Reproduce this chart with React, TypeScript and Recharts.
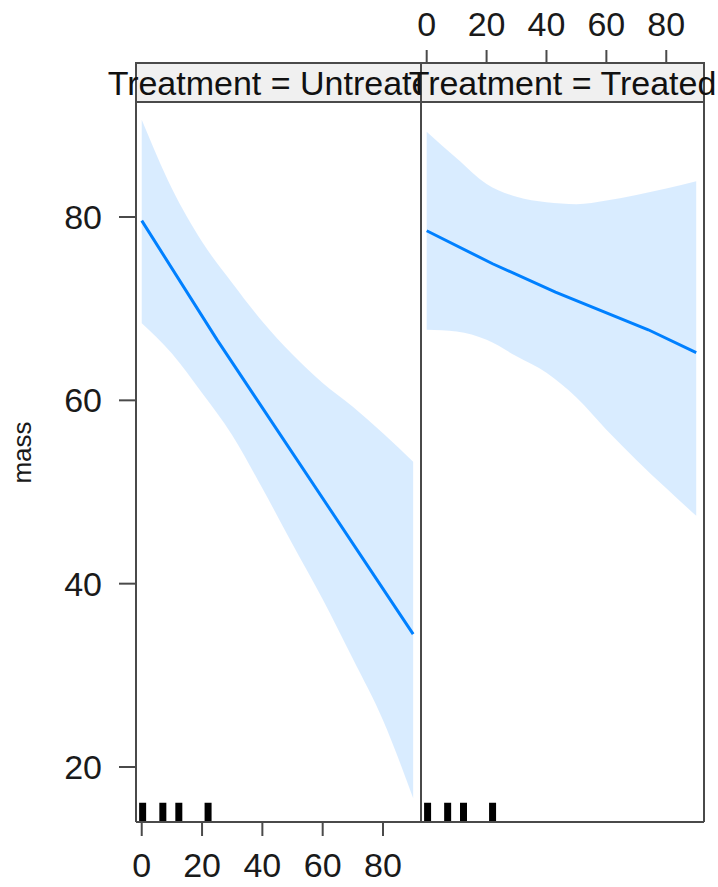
import { ComposedChart, XAxis, YAxis, Area, Line, ReferenceArea, ReferenceLine, Label } from "recharts";

// x = gap, y = mass; effect of gap by Treatment with 95% band
const xTicks = [0, 20, 40, 60, 80];
const yTicks = [20, 40, 60, 80];
const panelNames = ["Treatment = Untreated", "Treatment = Treated"];

const bandX = [0, 10, 20, 30, 40, 50, 60, 70, 80, 90];
const untreatedUpper = [90.6, 83.1, 77.3, 72.8, 68.6, 65.0, 61.9, 59.3, 56.4, 53.3];
const untreatedLower = [68.4, 65.1, 60.8, 56.2, 50.4, 44.3, 38.3, 31.8, 25.1, 16.6];
const untreatedFitX = [0, 25, 90];
const untreatedFit = [79.6, 66.6, 34.5];

const treatedUpper = [89.3, 86.4, 83.6, 82.2, 81.6, 81.4, 81.8, 82.4, 83.1, 83.9];
const treatedLower = [67.7, 67.5, 66.6, 64.8, 63.0, 60.3, 56.8, 53.5, 50.4, 47.4];
const treatedFitX = [0, 22, 43, 74, 90];
const treatedFit = [78.5, 74.9, 71.8, 67.7, 65.2];

const rugX = [0.3, 7, 12.3, 22];

const X_DOMAIN: [number, number] = [-1.9, 92.6];
const Y_DOMAIN: [number, number] = [14, 96.8];
const STRIP_BOTTOM = 92.55;
const RUG_TOP = 16.1;

const AXIS = "#4a4a4a";
const BLUE = "#0080ff";
const tickStyle = { fontSize: 34, fill: "#1a1a1a" };

interface PanelProps {
  left: boolean;
  name: string;
  upper: number[];
  lower: number[];
  fitX: number[];
  fit: number[];
}

function Panel({ left, name, upper, lower, fitX, fit }: PanelProps) {
  const bandRows = bandX.map((x, i) => ({ x, range: [lower[i], upper[i]] }));
  const fitRows = fitX.map((x, i) => ({ x, fit: fit[i] }));

  return (
    <div style={{ position: "absolute", left: left ? 0 : 380, top: 0 }}>
      <ComposedChart
        width={left ? 440 : 338}
        height={887}
        margin={{ top: 0, right: left ? 19 : 0, bottom: 0, left: left ? 0 : 41 }}
      >
        <XAxis
          type="number"
          dataKey="x"
          domain={X_DOMAIN}
          allowDataOverflow
          ticks={xTicks}
          height={65}
          tickSize={14}
          tickMargin={17}
          tick={left ? tickStyle : false}
          axisLine={{ stroke: AXIS, strokeWidth: 2 }}
          tickLine={{ stroke: AXIS, strokeWidth: 2 }}
        />
        <XAxis
          xAxisId="top"
          orientation="top"
          type="number"
          dataKey="x"
          domain={X_DOMAIN}
          allowDataOverflow
          ticks={xTicks}
          height={63}
          tickSize={13}
          tickMargin={14}
          tick={left ? false : tickStyle}
          axisLine={{ stroke: AXIS, strokeWidth: 2 }}
          tickLine={{ stroke: AXIS, strokeWidth: 2 }}
        />
        <YAxis
          type="number"
          orientation={left ? "left" : "right"}
          domain={Y_DOMAIN}
          allowDataOverflow
          ticks={yTicks}
          width={left ? 136 : 14}
          tickSize={left ? 17 : 14}
          tickMargin={17}
          tick={left ? tickStyle : false}
          axisLine={{ stroke: AXIS, strokeWidth: 2 }}
          tickLine={{ stroke: AXIS, strokeWidth: 2 }}
        >
          {left && (
            <Label value="mass" angle={-90} position="center" dx={-46} dy={10} style={{ fontSize: 26, fill: "#1a1a1a" }} />
          )}
        </YAxis>

        <Area
          data={bandRows}
          dataKey="range"
          type="monotone"
          stroke="none"
          fill={BLUE}
          fillOpacity={0.15}
          isAnimationActive={false}
        />
        <Line
          data={fitRows}
          dataKey="fit"
          type="linear"
          stroke={BLUE}
          strokeWidth={3}
          dot={false}
          isAnimationActive={false}
        />

        {rugX.map((x) => (
          <ReferenceLine
            key={x}
            segment={[{ x, y: Y_DOMAIN[0] }, { x, y: RUG_TOP }]}
            stroke="#000"
            strokeWidth={7}
          />
        ))}

        <ReferenceArea
          y1={STRIP_BOTTOM}
          y2={Y_DOMAIN[1]}
          fill="#f0f0f0"
          fillOpacity={1}
          stroke={AXIS}
          strokeWidth={2}
          label={{ value: name, position: "center", fontSize: 34, fill: "#111" }}
        />
        <ReferenceLine x={left ? X_DOMAIN[1] : X_DOMAIN[0]} stroke={AXIS} strokeWidth={2} />
      </ComposedChart>
    </div>
  );
}

export default function App() {
  return (
    <div
      style={{
        position: "absolute",
        left: 0,
        top: 0,
        width: 718,
        height: 887,
        background: "#fff",
        fontFamily: "'Liberation Sans', Arial, sans-serif",
      }}
    >
      <Panel left name={panelNames[0]} upper={untreatedUpper} lower={untreatedLower} fitX={untreatedFitX} fit={untreatedFit} />
      <Panel left={false} name={panelNames[1]} upper={treatedUpper} lower={treatedLower} fitX={treatedFitX} fit={treatedFit} />
    </div>
  );
}
